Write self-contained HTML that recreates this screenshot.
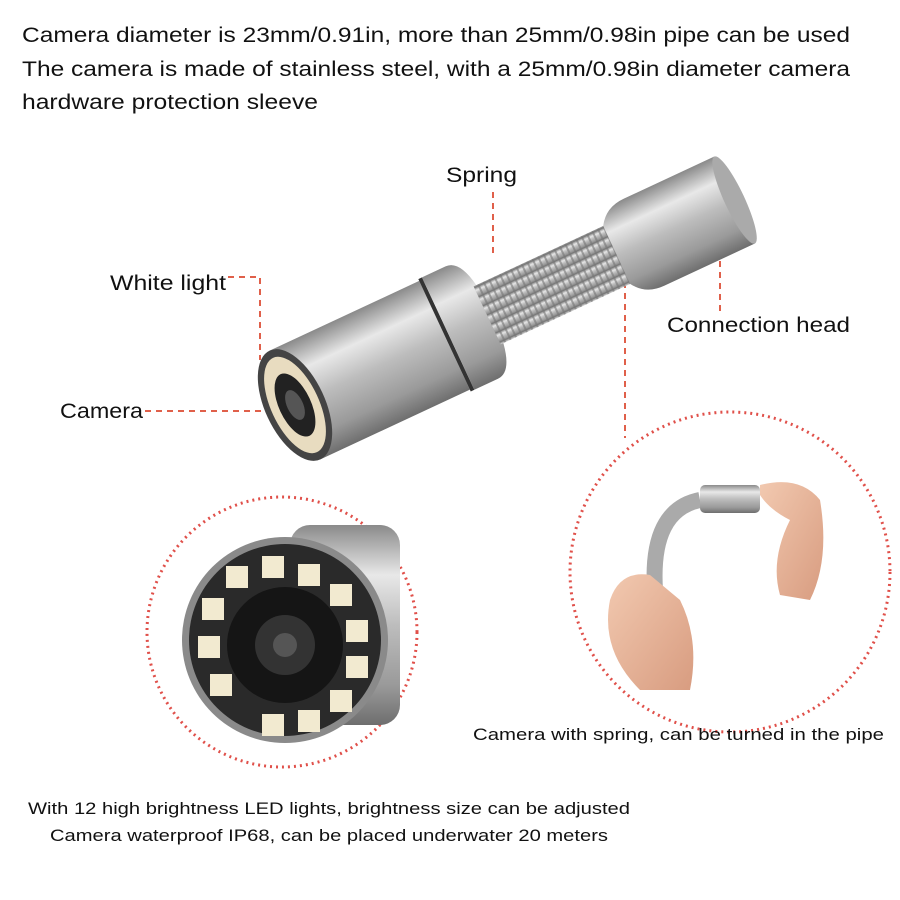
<!DOCTYPE html>
<html><head><meta charset="utf-8"><style>
body{margin:0;background:#fff;}
svg{display:block;font-family:"Liberation Sans",sans-serif;}
</style></head><body>
<svg width="900" height="900" viewBox="0 0 900 900">
<defs>
<linearGradient id="m" x1="0" y1="0" x2="0" y2="1">
<stop offset="0" stop-color="#8a8a8a"/><stop offset="0.25" stop-color="#e8e8e8"/><stop offset="0.5" stop-color="#bdbdbd"/><stop offset="0.8" stop-color="#9a9a9a"/><stop offset="1" stop-color="#6e6e6e"/>
</linearGradient>
<pattern id="sp" width="6" height="10" patternUnits="userSpaceOnUse"><rect width="6" height="10" fill="url(#m)"/><rect width="2" height="10" fill="#777" opacity="0.6"/></pattern>
<linearGradient id="skin" x1="0" y1="0" x2="1" y2="1"><stop offset="0" stop-color="#f2c9b0"/><stop offset="1" stop-color="#d89c80"/></linearGradient>
</defs>
<g fill="#111" font-size="21.5" lengthAdjust="spacingAndGlyphs">
<text x="22" y="42" textLength="828" lengthAdjust="spacingAndGlyphs">Camera diameter is 23mm/0.91in, more than 25mm/0.98in pipe can be used</text>
<text x="22" y="76" textLength="828" lengthAdjust="spacingAndGlyphs">The camera is made of stainless steel, with a 25mm/0.98in diameter camera</text>
<text x="22" y="109" textLength="296" lengthAdjust="spacingAndGlyphs">hardware protection sleeve</text>
<text x="446" y="182" textLength="71" lengthAdjust="spacingAndGlyphs">Spring</text>
<text x="110" y="290" textLength="116" lengthAdjust="spacingAndGlyphs">White light</text>
<text x="667" y="332" textLength="183" lengthAdjust="spacingAndGlyphs">Connection head</text>
<text x="60" y="418" textLength="83" lengthAdjust="spacingAndGlyphs">Camera</text>
</g>
<g stroke="#e0604a" stroke-width="2" stroke-dasharray="6,5" fill="none">
<path d="M493 192V258"/><path d="M228 277H260V360"/><path d="M145 411H272"/><path d="M720 250V312"/><path d="M625 282V438"/>
</g>
<!-- camera -->
<g transform="translate(295,405) rotate(-25)">
<rect x="0" y="-60" width="165" height="120" fill="url(#m)"/>
<rect x="165" y="-62" width="4" height="124" fill="#333"/>
<path d="M169 -62 H195 Q210 -62 215 -32 V32 Q210 62 195 62 H169Z" fill="url(#m)"/>
<rect x="212" y="-32" width="150" height="64" fill="url(#sp)"/>
<path d="M355 -32 Q365 -48 385 -48 H485 V48 H385 Q365 48 355 32Z" fill="url(#m)"/>
<ellipse cx="485" cy="0" rx="10" ry="48" fill="#aaa"/>
<ellipse cx="0" cy="0" rx="30" ry="60" fill="#444"/>
<ellipse cx="0" cy="0" rx="24" ry="52" fill="#e8dcc0"/>
<ellipse cx="0" cy="0" rx="16" ry="34" fill="#222"/>
<ellipse cx="0" cy="0" rx="8" ry="16" fill="#555"/>
</g>
<!-- left circle -->
<circle cx="282" cy="632" r="135" fill="none" stroke="#e0504a" stroke-width="3" stroke-dasharray="2,4"/>
<rect x="290" y="525" width="110" height="200" rx="20" fill="url(#m)"/>
<circle cx="285" cy="640" r="103" fill="#8a8a8a"/>
<circle cx="285" cy="640" r="96" fill="#2a2a2a"/>
<g fill="#f2ead0">
<rect x="262" y="556" width="22" height="22"/><rect x="298" y="564" width="22" height="22"/><rect x="330" y="584" width="22" height="22"/><rect x="346" y="620" width="22" height="22"/><rect x="346" y="656" width="22" height="22"/><rect x="330" y="690" width="22" height="22"/><rect x="298" y="710" width="22" height="22"/><rect x="262" y="714" width="22" height="22"/><rect x="226" y="566" width="22" height="22"/><rect x="202" y="598" width="22" height="22"/><rect x="198" y="636" width="22" height="22"/><rect x="210" y="674" width="22" height="22"/>
</g>
<circle cx="285" cy="645" r="58" fill="#151515"/>
<circle cx="285" cy="645" r="30" fill="#333"/>
<circle cx="285" cy="645" r="12" fill="#555"/>
<!-- right circle -->
<circle cx="730" cy="572" r="160" fill="none" stroke="#e0504a" stroke-width="3" stroke-dasharray="2,4"/>
<path d="M655 590 Q650 510 700 500" fill="none" stroke="#aaa" stroke-width="16"/>
<rect x="700" y="485" width="60" height="28" rx="5" fill="url(#m)"/>
<path d="M610 600 Q620 570 650 575 L680 600 Q700 640 690 690 L640 690 Q600 650 610 600Z" fill="url(#skin)"/>
<path d="M760 485 Q800 475 820 500 Q830 560 810 600 L780 595 Q770 560 790 520 Q770 510 760 495Z" fill="url(#skin)"/>
<g fill="#111" font-size="16.5">
<text x="473" y="740" textLength="411" lengthAdjust="spacingAndGlyphs">Camera with spring, can be turned in the pipe</text>
<text x="28" y="814" textLength="602" lengthAdjust="spacingAndGlyphs">With 12 high brightness LED lights, brightness size can be adjusted</text>
<text x="50" y="841" textLength="558" lengthAdjust="spacingAndGlyphs">Camera waterproof IP68, can be placed underwater 20 meters</text>
</g>
</svg>
</body></html>
